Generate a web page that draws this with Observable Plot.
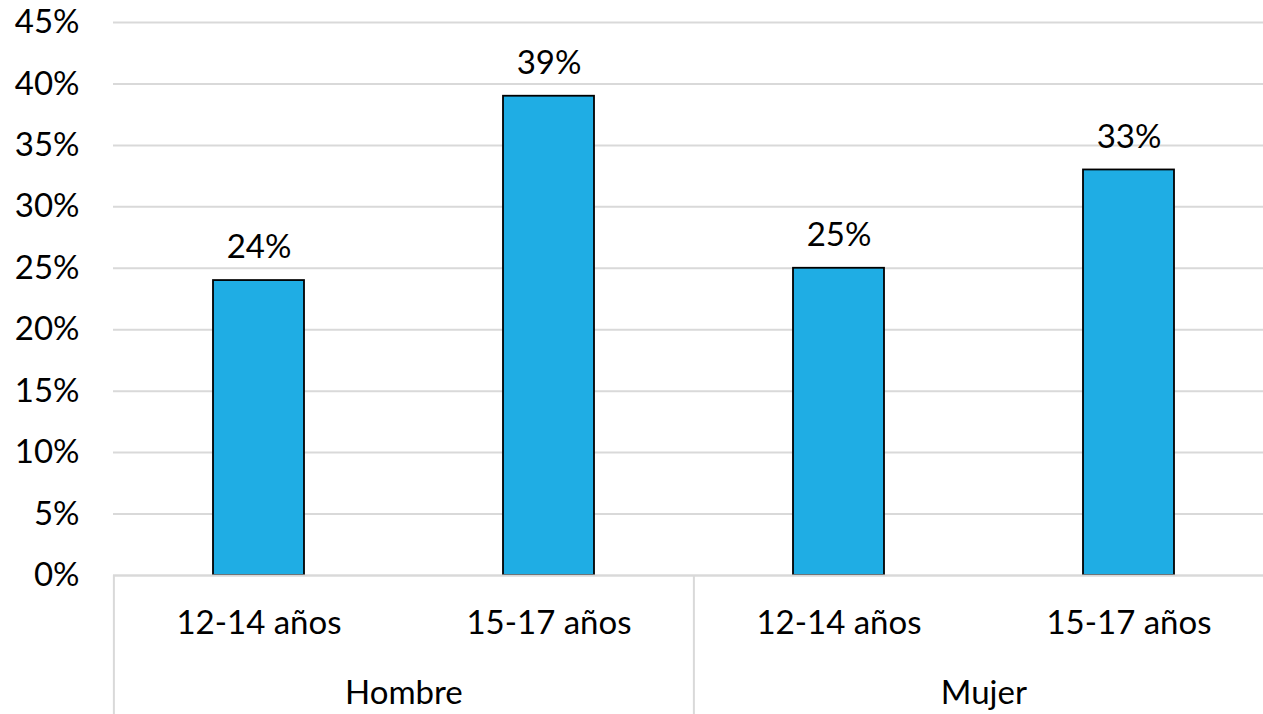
<!DOCTYPE html>
<html>
<head>
<meta charset="utf-8">
<script src="https://cdn.jsdelivr.net/npm/d3@7"></script>
<script src="https://cdn.jsdelivr.net/npm/@observablehq/plot@0.6"></script>
<style>
  html, body { margin: 0; padding: 0; background: white; overflow: hidden; }
  #wrap { width: 1263px; height: 714px; overflow: hidden; }
  #wrap svg { max-width: none !important; }
</style>
</head>
<body>
<div id="wrap"></div>
<script>
// Data
const groups = ["Hombre", "Hombre", "Mujer", "Mujer"];
const ages = ["12-14 años", "15-17 años", "12-14 años", "15-17 años"];
const values = [24, 39, 25, 33];
const yTicks = [0, 5, 10, 15, 20, 25, 30, 35, 40, 45];
const groupNames = ["Hombre", "Mujer"];

const data = values.map((v, i) => ({
  key: groups[i] + "|" + ages[i],
  group: groups[i],
  age: ages[i],
  value: v
}));
const keys = data.map(d => d.key);

// Layout
const W = 1274, H = 714;
const mL = 113, mR = 0, mT = 22, mB = 139;
const step = (W - mL - mR) / keys.length;
const grey = "#d9d9d9";
const font = 33;

const groupAnchors = groupNames.map(g => ({
  key: data.filter(d => d.group === g).slice(-1)[0].key,
  name: g
}));
const sepAnchors = groupNames.map(g => ({key: data.find(d => d.group === g).key}));

const chart = Plot.plot({
  width: W,
  height: H,
  marginLeft: mL,
  marginRight: mR,
  marginTop: mT,
  marginBottom: mB,
  style: {fontFamily: "Lato, 'Open Sans', sans-serif", fontSize: font + "px", background: "white", color: "black", maxWidth: "none"},
  x: {domain: keys, paddingInner: 0.685, paddingOuter: 0.3425, axis: null},
  y: {domain: [0, 45], axis: null, label: null},
  marks: [
    Plot.gridY(yTicks, {stroke: grey, strokeOpacity: 1, strokeWidth: 2}),
    Plot.axisY(yTicks, {tickSize: 0, tickPadding: 34, fontSize: font, tickFormat: d => d + "%", label: null, fill: "black"}),
    Plot.barY(data, {x: "key", y: "value", fill: "#1FADE4", stroke: "black", strokeWidth: 1.8}),
    Plot.ruleY([0], {stroke: grey, strokeWidth: 2}),
    Plot.text(data, {x: "key", y: "value", text: d => d.value + "%", dy: -33, lineAnchor: "middle", fontSize: font, fill: "black"}),
    Plot.text(data, {x: "key", frameAnchor: "bottom", text: "age", dy: 48, lineAnchor: "middle", fontSize: font, fill: "black"}),
    Plot.text(groupAnchors, {x: "key", frameAnchor: "bottom", text: "name", dx: -step / 2, dy: 118, lineAnchor: "middle", fontSize: font, fill: "black"}),
    Plot.ruleX(sepAnchors, {x: "key", dx: -step / 2, stroke: grey, strokeWidth: 2, insetTop: H - mT - mB, insetBottom: -mB})
  ]
});

chart.style.maxWidth = "none";
document.getElementById("wrap").appendChild(chart);
</script>
</body>
</html>
